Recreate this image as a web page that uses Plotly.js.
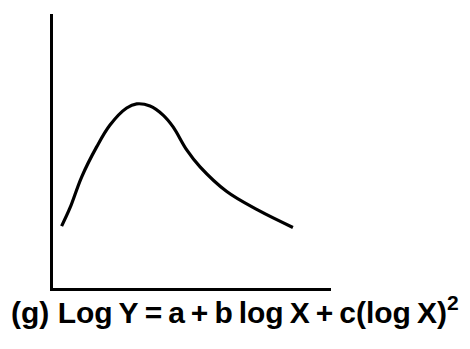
<!DOCTYPE html>
<html>
<head>
<meta charset="utf-8">
<script src="https://cdn.plot.ly/plotly-3.0.1.min.js"></script>
<style>
  html, body { margin: 0; padding: 0; background: #ffffff; }
  #chart { width: 470px; height: 349px; }
</style>
</head>
<body>
<div id="chart"></div>
<script>
// Curve (g): log-quadratic response, sketched on unlabeled axes
const logX = [0.31, 0.61, 1.03, 1.57, 2.05, 2.65, 3.01, 3.49, 3.96, 4.32, 4.81, 5.29, 6.25, 7.36, 8.63];
const logY = [2.26, 2.92, 4.05, 5.15, 5.95, 6.57, 6.72, 6.64, 6.31, 5.88, 5.04, 4.42, 3.52, 2.85, 2.21];
const caption = '(g) Log\u2009Y\u2009=\u2009a\u2009+\u2009b\u2009log\u2009X\u2009+\u2009c(log\u2009X)<sup>2</sup>';

const trace = {
  x: logX,
  y: logY,
  type: 'scatter',
  mode: 'lines',
  line: { color: '#000000', width: 3.2, shape: 'spline', smoothing: 1.0 },
  hoverinfo: 'skip'
};

const axisCommon = {
  showgrid: false,
  zeroline: false,
  showticklabels: false,
  ticks: '',
  showline: true,
  linecolor: '#000000',
  linewidth: 3.2,
  fixedrange: true
};

const layout = {
  width: 470,
  height: 349,
  margin: { l: 53, r: 139, t: 14, b: 61, pad: 0 },
  paper_bgcolor: '#ffffff',
  plot_bgcolor: '#ffffff',
  showlegend: false,
  xaxis: Object.assign({ range: [0, 10] }, axisCommon),
  yaxis: Object.assign({ range: [0, 10] }, axisCommon),
  annotations: [{
    text: '<b>' + caption + '</b>',
    xref: 'paper', yref: 'paper',
    x: 0.655, y: -0.08,
    xanchor: 'center', yanchor: 'middle',
    showarrow: false,
    font: { family: 'Liberation Sans, Arial, sans-serif', size: 30, color: '#000000' }
  }]
};

Plotly.newPlot('chart', [trace], layout, { staticPlot: true, displayModeBar: false });
</script>
</body>
</html>
